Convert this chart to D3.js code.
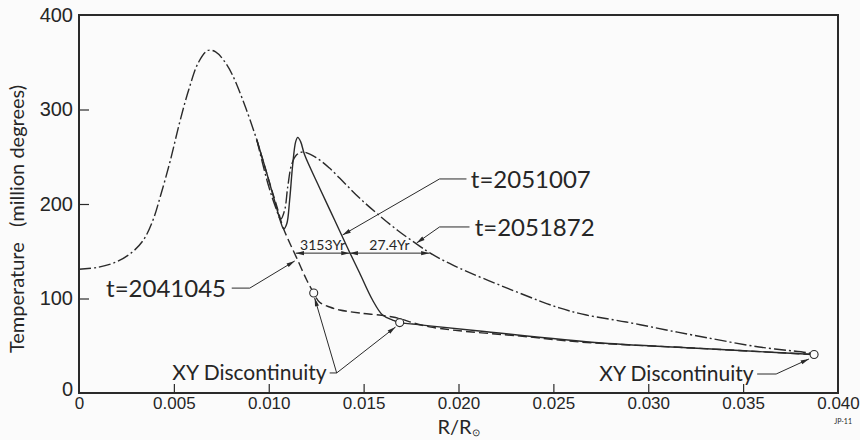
<!DOCTYPE html>
<html>
<head>
<meta charset="utf-8">
<script src="https://cdn.jsdelivr.net/npm/d3@7"></script>
<style>
  body { margin: 0; background: #fbfbfb; }
  svg { display: block; font-family: "Lato", "Liberation Sans", sans-serif; font-weight: 400; }
  text { fill: #262626; }
</style>
</head>
<body>
<svg width="860" height="440"></svg>
<script>
// axis ticks
var xTicks = [0, 0.005, 0.010, 0.015, 0.020, 0.025, 0.030, 0.035, 0.040];
var xTickLabels = ["0", "0.005", "0.010", "0.015", "0.020", "0.025", "0.030", "0.035", "0.040"];
var yTicks = [0, 100, 200, 300, 400];

// common part of all three profiles, [R/Ro, T]
var shared = [[0, 131], [0.001, 133], [0.002, 139], [0.0028, 149], [0.0034, 162], [0.0039, 183],
    [0.0043, 209], [0.0048, 245], [0.0053, 286], [0.0058, 322], [0.0063, 350], [0.0068, 362.5],
    [0.0072, 361], [0.0077, 350], [0.0081, 336], [0.0088, 301], [0.00937, 268]];

// t = 2041045 (dashed)
var t2041045 = [[0.00937, 268], [0.01005, 222], [0.01042, 198], [0.01074, 176], [0.0111, 159],
    [0.01147, 143], [0.012, 119.6], [0.01237, 105.8], [0.01268, 96], [0.01321, 91], [0.01374, 87.8],
    [0.01479, 84.7], [0.01653, 80.4], [0.01847, 70], [0.02374, 59.3], [0.02637, 54],
    [0.03232, 47.6], [0.03874, 40.7]];

// t = 2051007 (solid)
var t2051007 = [[0.00937, 268], [0.00984, 236.5], [0.01037, 199], [0.01063, 181], [0.01079, 173.5],
    [0.01095, 179], [0.0111, 204], [0.01126, 241], [0.01142, 266], [0.01153, 270.5], [0.01168, 266],
    [0.01189, 252], [0.01268, 217], [0.01347, 183], [0.01426, 149], [0.01479, 127], [0.01547, 98.4],
    [0.016, 82.5], [0.01653, 77.2], [0.0169, 74.5], [0.01758, 73], [0.01847, 71], [0.0211, 65.6],
    [0.02758, 52.9], [0.03232, 47.6], [0.03874, 40.7]];

// t = 2051872 (dash-dot)
var t2051872 = [[0.00937, 268], [0.00995, 222], [0.01037, 196], [0.01063, 184], [0.01084, 193.7],
    [0.011, 218], [0.01121, 242], [0.01147, 252], [0.0118, 255], [0.0125, 249], [0.0132, 238],
    [0.014, 222], [0.0148, 206], [0.0157, 190], [0.0168, 172], [0.01795, 155.5], [0.01847, 148.5],
    [0.01968, 135.5], [0.02321, 105.8], [0.02532, 90], [0.02674, 82.5], [0.02884, 75.1],
    [0.03095, 66.7], [0.03232, 61.4], [0.03584, 48.7], [0.03847, 42.3], [0.03874, 40.7]];

var discontinuities = [[0.01237, 105.8], [0.0169, 74.5], [0.03874, 40.7]];

// year spans measured at T = 148
var spanT = 148;
var spanEnds = [0.01142, 0.01426, 0.01847];
var spanLabels = ["3153Yr", "27.4Yr"];

// labels: text, anchor point, leader polyline (data coords)
var labels = [
    {text: "t=2051007", at: [0.02065, 226.5], anchor: "start",
     leader: [[0.02042, 226.5], [0.019, 226.5], [0.01389, 167.2]]},
    {text: "t=2051872", at: [0.02085, 174.8], anchor: "start",
     leader: [[0.02058, 175.7], [0.019, 175.7], [0.01779, 158.7]]},
    {text: "t=2041045", at: [0.00775, 110.5], anchor: "end",
     leader: [[0.00805, 111], [0.009, 111], [0.01137, 139.7]]}
];
var xyLabels = [
    {at: [0.01305, 21.5], leaders: [
        [[0.01321, 21.2], [0.01358, 21.2], [0.01242, 100.5]],
        [[0.01358, 21.2], [0.01668, 69.8]]]},
    {at: [0.03555, 20.5], leaders: [
        [[0.03574, 20.1], [0.03674, 20.1], [0.03847, 36]]]}
];

var margin = {left: 79, right: 22, top: 15, bottom: 47},
    width = 860, height = 440;

var svg = d3.select("svg");
var x = d3.scaleLinear().domain([0, 0.040]).range([margin.left, width - margin.right]);
var y = d3.scaleLinear().domain([0, 400]).range([height - margin.bottom, margin.top]);

var ink = "#2a2a2a";

// arrow head
svg.append("defs").append("marker")
    .attr("id", "head")
    .attr("viewBox", "0 -3 10 6")
    .attr("refX", 10).attr("refY", 0)
    .attr("markerWidth", 9).attr("markerHeight", 5)
    .attr("markerUnits", "userSpaceOnUse")
    .attr("orient", "auto-start-reverse")
    .append("path")
    .attr("d", "M0,-2.5L10,0L0,2.5Z")
    .attr("fill", ink);

// frame
svg.append("rect")
    .attr("x", x(0)).attr("y", y(400))
    .attr("width", x(0.040) - x(0)).attr("height", y(0) - y(400))
    .attr("fill", "none").attr("stroke", ink).attr("stroke-width", 2);

// ticks pointing inward
var xAxis = d3.axisBottom(x).tickValues(xTicks).tickSize(-9).tickPadding(14)
    .tickFormat(function(d, i) { return xTickLabels[i]; });
var gx = svg.append("g").attr("transform", "translate(0," + y(0) + ")").call(xAxis);
gx.select(".domain").remove();
gx.selectAll(".tick line").attr("stroke", ink).attr("stroke-width", 1.2)
    .filter(function(d) { return d === 0 || d === 0.040; }).remove();
gx.selectAll(".tick text").attr("font-size", 17).attr("font-family", null).attr("fill", "#262626")
    .attr("dy", "0.35em").attr("y", 10);

var yAxis = d3.axisLeft(y).tickValues(yTicks).tickSize(-10).tickPadding(8);
var gy = svg.append("g").attr("transform", "translate(" + x(0) + ",0)").call(yAxis);
gy.select(".domain").remove();
gy.selectAll(".tick line").attr("stroke", ink).attr("stroke-width", 1.2)
    .filter(function(d) { return d === 0 || d === 400; }).remove();
gy.selectAll(".tick text").attr("font-size", 20).attr("font-family", null).attr("fill", "#262626")
    .attr("x", -6);
gy.selectAll(".tick").filter(function(d) { return d === 0; }).select("text").attr("dy", "0.1em");

// axis titles
svg.append("text")
    .attr("transform", "translate(24," + ((y(0) + y(400)) / 2 + 15) + ") rotate(-90)")
    .attr("text-anchor", "middle").attr("font-size", 20)
    .attr("xml:space", "preserve")
    .text("Temperature   (million degrees)");

var xt = svg.append("text")
    .attr("x", (x(0) + x(0.040)) / 2).attr("y", 434)
    .attr("text-anchor", "middle").attr("font-size", 20);
xt.append("tspan").text("R/R");
xt.append("tspan").attr("font-size", 10).attr("dy", 1.5).text("\u2299");

svg.append("text").attr("x", 852).attr("y", 424).attr("text-anchor", "end")
    .attr("font-size", 7).text("JP-11");

// curves
var line = d3.line()
    .x(function(d) { return x(d[0]); })
    .y(function(d) { return y(d[1]); })
    .curve(d3.curveCatmullRom.alpha(0.5));

var series = [
    {data: shared, dash: "12,3,2,3"},
    {data: t2041045, dash: "9,4"},
    {data: t2051007, dash: null},
    {data: t2051872, dash: "12,3,2,3"}
];
svg.selectAll("path.curve").data(series).enter()
    .append("path")
    .attr("class", "curve")
    .attr("d", function(d) { return line(d.data); })
    .attr("fill", "none")
    .attr("stroke", ink)
    .attr("stroke-width", 1.4)
    .attr("stroke-dasharray", function(d) { return d.dash; });

// year spans
var spans = d3.pairs(spanEnds);
svg.selectAll("line.span").data(spans).enter()
    .append("line")
    .attr("class", "span")
    .attr("x1", function(d) { return x(d[0]); })
    .attr("x2", function(d) { return x(d[1]); })
    .attr("y1", y(spanT)).attr("y2", y(spanT))
    .attr("stroke", ink).attr("stroke-width", 1)
    .attr("marker-start", "url(#head)")
    .attr("marker-end", "url(#head)");
svg.selectAll("text.span").data(spans).enter()
    .append("text")
    .attr("class", "span")
    .attr("x", function(d) { return (x(d[0]) + x(d[1])) / 2; })
    .attr("y", y(spanT) - 3)
    .attr("text-anchor", "middle")
    .attr("font-size", 14)
    .text(function(d, i) { return spanLabels[i]; });

// labels and leaders
var leaderLine = d3.line()
    .x(function(d) { return x(d[0]); })
    .y(function(d) { return y(d[1]); });

labels.forEach(function(l) {
    svg.append("path").attr("d", leaderLine(l.leader))
        .attr("fill", "none").attr("stroke", ink).attr("stroke-width", 1)
        .attr("marker-end", "url(#head)");
    svg.append("text")
        .attr("x", x(l.at[0])).attr("y", y(l.at[1]))
        .attr("dy", "0.36em")
        .attr("text-anchor", l.anchor)
        .attr("font-size", 24)
        .text(l.text);
});

xyLabels.forEach(function(l) {
    l.leaders.forEach(function(p) {
        svg.append("path").attr("d", leaderLine(p))
            .attr("fill", "none").attr("stroke", ink).attr("stroke-width", 1)
            .attr("marker-end", "url(#head)");
    });
    svg.append("text")
        .attr("x", x(l.at[0])).attr("y", y(l.at[1]))
        .attr("dy", "0.36em")
        .attr("text-anchor", "end")
        .attr("font-size", 21)
        .text("XY Discontinuity");
});

// discontinuity circles
svg.selectAll("circle.xy").data(discontinuities).enter()
    .append("circle")
    .attr("class", "xy")
    .attr("cx", function(d) { return x(d[0]); })
    .attr("cy", function(d) { return y(d[1]); })
    .attr("r", 4)
    .attr("fill", "#fbfbfb")
    .attr("stroke", ink)
    .attr("stroke-width", 1.1);
</script>
</body>
</html>
